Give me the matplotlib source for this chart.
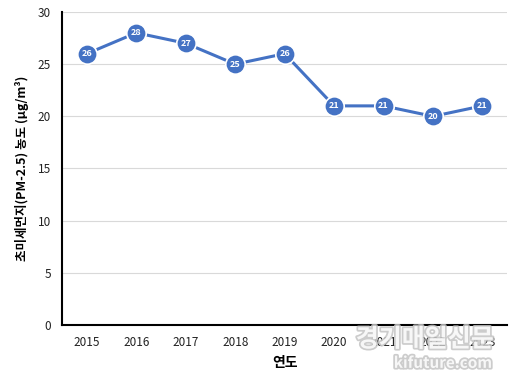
import matplotlib
matplotlib.use("Agg")
import matplotlib.pyplot as plt
import matplotlib.patheffects as pe

plt.rcParams['font.family'] = ['Noto Sans CJK KR', 'DejaVu Sans']

years = ["2015", "2016", "2017", "2018", "2019", "2020", "2021", "2022", "2023"]
pm25 = [26, 28, 27, 25, 26, 21, 21, 20, 21]

blue = "#4472C4"

fig = plt.figure(figsize=(5.18, 3.86), dpi=100)
ax = fig.add_axes([0.12, 0.158, 0.859, 0.811])

x = list(range(len(years)))
ax.plot(x, pm25, color=blue, lw=2.2, marker="o", ms=14, mfc=blue, mec="white", mew=1.2, zorder=3)
for xi, v in zip(x, pm25):
    ax.text(xi, v, str(v), ha="center", va="center", color="white", fontsize=6.5,
            fontweight="bold", zorder=4)

ax.set_xlim(-0.5, len(years) - 0.5)
ax.set_ylim(0, 30)
ax.set_yticks([0, 5, 10, 15, 20, 25, 30])
ax.set_xticks(x)
ax.set_xticklabels(years)
ax.grid(axis="y", color="#d9d9d9", lw=0.8)
ax.set_axisbelow(True)
for s in ["top", "right"]:
    ax.spines[s].set_visible(False)
ax.spines["left"].set_linewidth(1.5)
ax.spines["bottom"].set_linewidth(1.5)
ax.tick_params(length=0, labelsize=8.5, colors="#222222", pad=8)

ax.set_xlabel("연도", fontsize=10, fontweight="bold", labelpad=5)
ax.set_ylabel("초미세먼지(PM-2.5) 농도 (μg/m³)", fontsize=9, fontweight="bold", labelpad=6)

# watermark
wm = [pe.withStroke(linewidth=2.5, foreground="#c4c4c4")]
fig.text(0.82, 0.12, "경기매일신문", ha="center", va="center", fontsize=18, fontweight="bold",
         color="white", alpha=0.85, path_effects=wm)
fig.text(0.855, 0.06, "kifuture.com", ha="center", va="center", fontsize=11, fontweight="bold",
         color="white", alpha=0.85, path_effects=wm)

fig.savefig("out.png", dpi=100)
